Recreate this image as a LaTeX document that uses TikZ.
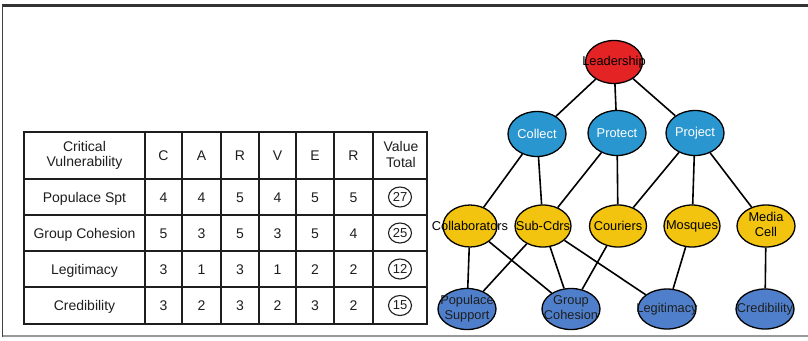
\documentclass[tikz,border=0pt]{standalone}
\usepackage{fontspec}
\setmainfont{Liberation Sans}
\usetikzlibrary{shapes.geometric}
\definecolor{leadred}{HTML}{E42424}
\definecolor{midblue}{HTML}{2A96D0}
\definecolor{gold}{HTML}{F2C40F}
\definecolor{steel}{HTML}{4F7FCB}
\definecolor{ink}{HTML}{1E1E1E}
% text that may spill past its ellipse without widening it
\newcommand{\ovl}[1]{\makebox[0pt]{#1}}
\newcommand{\ovltwo}[2]{\makebox[0pt]{\begin{tabular}{@{}c@{}}#1\\#2\end{tabular}}}

\begin{document}
\begin{tikzpicture}[x=1pt,y=-1pt,
  grid/.style={line width=1.8pt, ink},
  cell/.style={font=\fontsize{14}{15.5}\selectfont, text=ink, inner sep=0pt},
  hcell/.style={cell, align=center},
  total/.style={ellipse, draw=ink, line width=1.1pt, minimum width=23pt,
    minimum height=20pt, inner sep=0pt, text=ink, font=\fontsize{13}{14}\selectfont},
  vnode/.style={ellipse, draw=black, line width=1.3pt, inner sep=0pt,
    font=\fontsize{12.8}{14.5}\selectfont},
  lead/.style={vnode, fill=leadred, text=black, minimum width=57pt, minimum height=43pt},
  task/.style={vnode, fill=midblue, text=white, minimum width=58pt, minimum height=45pt},
  asset/.style={vnode, fill=gold, text=black, minimum width=57pt, minimum height=42pt},
  crit/.style={vnode, fill=steel, text=ink, minimum width=58pt, minimum height=40pt},
  link/.style={line width=1.6pt, black}
]
\useasboundingbox (0,0) rectangle (808,340);
\fill[white] (0,0) rectangle (808,340);

% page frame
\draw[line width=2.5pt, black!80] (2,5.5) -- (808,5.5);
\draw[line width=1.8pt, black!75] (2.5,4.5) -- (2.5,337);
\draw[line width=2pt, black!40] (2.5,336) -- (808,336);

% ---------- CARVER table ----------
\foreach \x in {145,182,221,259,296,334,373}
  \draw[grid] (\x,132) -- (\x,324);
\foreach \y in {179,215,251,287}
  \draw[grid] (24,\y) -- (427,\y);
\draw[grid, line width=2pt] (24,132) rectangle (427,324);

\node[hcell] (hcv) at (84.5,155.5) {Critical\\Vulnerability};
\foreach \t/\x [count=\i] in {C/163.5,A/201.5,R/240,V/277.5,E/315,R/353.5}
  \node[cell, anchor=base] (h\i) at (\x,160.5) {\t};
\node[hcell] (hvt) at (401,154.5) {Value\\Total};

\foreach \lab/\y/\a/\b/\c/\d/\e/\f/\s [count=\r] in {
    Populace Spt/197/4/4/5/4/5/5/27,
    Group Cohesion/233/5/3/5/3/5/4/25,
    Legitimacy/269/3/1/3/1/2/2/12,
    Credibility/305.5/3/2/3/2/3/2/15}{
  \node[cell, anchor=base] (lab\r) at (84.5,\y+5) {\lab};
  \node[cell, anchor=base] (c\r a) at (163.5,\y+5) {\a};
  \node[cell, anchor=base] (c\r b) at (201.5,\y+5) {\b};
  \node[cell, anchor=base] (c\r c) at (240,\y+5) {\c};
  \node[cell, anchor=base] (c\r d) at (277.5,\y+5) {\d};
  \node[cell, anchor=base] (c\r e) at (315,\y+5) {\e};
  \node[cell, anchor=base] (c\r f) at (353.5,\y+5) {\f};
  \node[total] (sum\r) at (400,\y) {\s};
}

% ---------- network ----------
\node[lead] (lead) at (614,62) {\ovl{Leadership}};

\node[task] (col) at (537,134) {\ovl{Collect}};
\node[task] (pro) at (617,133) {\ovl{Protect}};
\node[task] (prj) at (695,133) {\ovl{Project}};

\node[asset, minimum width=54pt] (cla) at (470,226) {\ovl{Collaborators}};
\node[asset, minimum width=56pt] (sub) at (543,226) {\ovl{Sub-Cdrs}};
\node[asset] (cou) at (618,226) {\ovl{Couriers}};
\node[asset, minimum width=56pt] (mos) at (692,226) {\ovl{Mosques}};
\node[asset, minimum width=58pt] (med) at (766,226) {\ovltwo{Media}{Cell}};

\node[crit] (pop) at (467,309) {\ovltwo{Populace}{Support}};
\node[crit] (grp) at (571,309) {\ovltwo{Group}{Cohesion}};
\node[crit] (leg) at (667,309) {\ovl{Legitimacy}};
\node[crit] (cre) at (765,309) {\ovl{Credibility}};

\draw[link] (lead) -- (col);
\draw[link] (lead) -- (pro);
\draw[link] (lead) -- (prj);

\draw[link] (col) -- (cla);
\draw[link] (col) -- (sub);
\draw[link] (pro) -- (sub);
\draw[link] (pro) -- (cou);
\draw[link] (prj) -- (cou);
\draw[link] (prj) -- (mos);
\draw[link] (prj) -- (med);

\draw[link] (cla) -- (pop);
\draw[link] (cla) -- (grp);
\draw[link] (sub) -- (pop);
\draw[link] (sub) -- (grp);
\draw[link] (sub) -- (leg);
\draw[link] (cou) -- (grp);
\draw[link] (mos) -- (leg);
\draw[link] (med) -- (cre);
\end{tikzpicture}
\end{document}
